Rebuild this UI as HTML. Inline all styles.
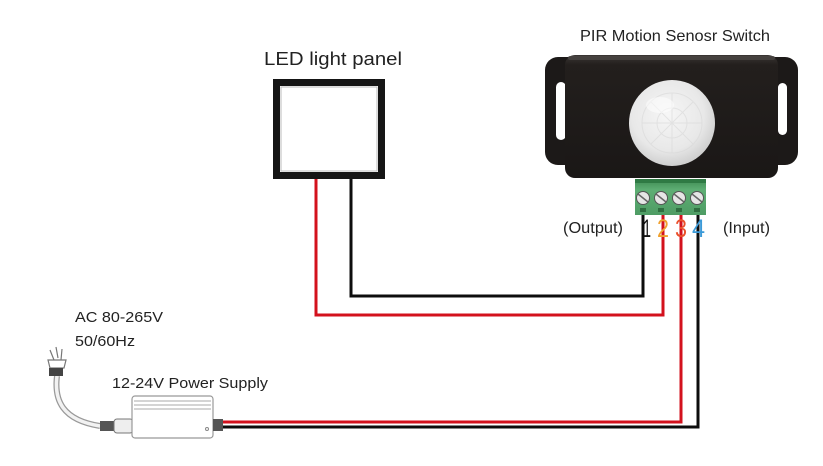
<!DOCTYPE html>
<html><head><meta charset="utf-8"><style>
html,body{margin:0;padding:0;background:#fff;}
svg{display:block;}
text{font-family:"Liberation Sans",Arial,sans-serif;}
</style></head><body>
<svg width="823" height="466" viewBox="0 0 823 466" xmlns="http://www.w3.org/2000/svg">
<defs>
<radialGradient id="dome" cx="0.45" cy="0.4" r="0.6">
<stop offset="0" stop-color="#f6f6f6"/>
<stop offset="0.7" stop-color="#e8e8e8"/>
<stop offset="1" stop-color="#cfcfcf"/>
</radialGradient>
<linearGradient id="body" x1="0" y1="0" x2="0" y2="1">
<stop offset="0" stop-color="#3a3634"/>
<stop offset="0.08" stop-color="#231f1d"/>
<stop offset="1" stop-color="#1a1716"/>
</linearGradient>
<linearGradient id="green" x1="0" y1="0" x2="0" y2="1">
<stop offset="0" stop-color="#3d8a52"/>
<stop offset="0.3" stop-color="#5eae74"/>
<stop offset="1" stop-color="#4e9c64"/>
</linearGradient>
</defs>

<!-- Titles -->
<text x="580" y="41" font-size="16" fill="#222" textLength="190" lengthAdjust="spacingAndGlyphs">PIR Motion Senosr Switch</text>
<text x="264" y="65" font-size="18" fill="#222" textLength="138" lengthAdjust="spacingAndGlyphs">LED light panel</text>

<!-- LED panel -->
<rect x="276.5" y="82.5" width="105" height="93" fill="#fff" stroke="#151515" stroke-width="7"/>
<rect x="281" y="87" width="96" height="84" fill="none" stroke="#777" stroke-width="1" opacity="0.5"/>

<!-- Wires -->
<polyline points="351,179 351,296 643,296 643,214" fill="none" stroke="#0d0d0d" stroke-width="3"/>
<polyline points="316,179 316,315 663,315 663,214" fill="none" stroke="#d3111d" stroke-width="3"/>
<polyline points="681,214 681,422 222,422" fill="none" stroke="#d3111d" stroke-width="3"/>
<polyline points="698,214 698,427 222,427" fill="none" stroke="#0d0d0d" stroke-width="3"/>

<!-- PIR device ears -->
<rect x="545" y="57" width="40" height="108" rx="13" fill="#1c1918"/>
<rect x="760" y="57" width="38" height="108" rx="13" fill="#1c1918"/>
<rect x="556" y="82" width="10" height="58" rx="5" fill="#fff"/>
<rect x="778" y="83" width="9" height="52" rx="4.5" fill="#fff"/>
<!-- body -->
<rect x="565" y="55" width="213" height="123" rx="10" fill="url(#body)"/>
<rect x="568" y="56" width="207" height="4" rx="2" fill="#4a4644" opacity="0.8"/>
<!-- dome -->
<circle cx="672" cy="123" r="43" fill="url(#dome)"/>
<g fill="none" stroke="#d8d8d8" stroke-width="1" opacity="0.6">
<circle cx="672" cy="123" r="30"/>
<circle cx="672" cy="123" r="15"/>
<path d="M642 123 L702 123 M672 93 L672 153 M651 102 L693 144 M693 102 L651 144"/>
</g>
<ellipse cx="660" cy="105" rx="14" ry="8" fill="#fff" opacity="0.5"/>

<!-- terminal block -->
<rect x="635" y="179" width="71" height="36" fill="url(#green)"/>
<rect x="635" y="179" width="71" height="4" fill="#2f7a44"/>
<g fill="#e6e6e6" stroke="#555" stroke-width="1">
<circle cx="643" cy="198" r="6.5"/>
<circle cx="661" cy="198" r="6.5"/>
<circle cx="679" cy="198" r="6.5"/>
<circle cx="697" cy="198" r="6.5"/>
</g>
<g stroke="#666" stroke-width="1.5">
<line x1="638" y1="194" x2="648" y2="202"/>
<line x1="656" y1="194" x2="666" y2="202"/>
<line x1="674" y1="194" x2="684" y2="202"/>
<line x1="692" y1="194" x2="702" y2="202"/>
</g>
<g fill="#2f6e40">
<rect x="640" y="208" width="6" height="4"/>
<rect x="658" y="208" width="6" height="4"/>
<rect x="676" y="208" width="6" height="4"/>
<rect x="694" y="208" width="6" height="4"/>
</g>

<!-- labels -->
<text x="563" y="233" font-size="16" fill="#222" textLength="60" lengthAdjust="spacingAndGlyphs">(Output)</text>
<text x="723" y="233" font-size="16" fill="#222" textLength="47" lengthAdjust="spacingAndGlyphs">(Input)</text>
<text x="643" y="237" font-size="25" fill="#111" textLength="8" lengthAdjust="spacingAndGlyphs">1</text>
<text x="657" y="237" font-size="25" fill="#f0a12e" textLength="12" lengthAdjust="spacingAndGlyphs">2</text>
<text x="675" y="237" font-size="25" fill="#ea4f2a" textLength="12" lengthAdjust="spacingAndGlyphs">3</text>
<text x="692" y="237" font-size="25" fill="#3b9ad8" textLength="13" lengthAdjust="spacingAndGlyphs">4</text>

<!-- power labels -->
<text x="75" y="322" font-size="15" fill="#222" textLength="88" lengthAdjust="spacingAndGlyphs">AC 80-265V</text>
<text x="75" y="346" font-size="15" fill="#222" textLength="60" lengthAdjust="spacingAndGlyphs">50/60Hz</text>
<text x="112" y="388" font-size="15" fill="#222" textLength="156" lengthAdjust="spacingAndGlyphs">12-24V Power Supply</text>

<!-- plug & cable -->
<path d="M57 376 C 54 400, 62 420, 100 426" fill="none" stroke="#999" stroke-width="6"/>
<path d="M57 376 C 54 400, 62 420, 100 426" fill="none" stroke="#f2f2f2" stroke-width="3.5"/>
<g stroke="#777" stroke-width="1.2" fill="none">
<path d="M50 350 L54 360 M56 347 L58 358 M62 349 L61 360"/>
<path d="M48 360 L66 360 L64 368 L50 368 Z"/>
</g>
<rect x="49" y="368" width="14" height="8" fill="#444"/>
<!-- connector -->
<rect x="100" y="421" width="14" height="10" fill="#555"/>
<rect x="114" y="419" width="19" height="14" rx="3" fill="#eee" stroke="#777"/>
<!-- PSU box -->
<rect x="132" y="396" width="81" height="42" rx="3" fill="#fff" stroke="#999" stroke-width="1.2"/>
<g stroke="#aaa" stroke-width="1">
<line x1="134" y1="401" x2="211" y2="401"/>
<line x1="134" y1="405" x2="211" y2="405"/>
<line x1="134" y1="409" x2="211" y2="409"/>
</g>
<circle cx="207" cy="429" r="1.5" fill="none" stroke="#888"/>
<rect x="213" y="419" width="10" height="12" fill="#555"/>
</svg>
</body></html>
